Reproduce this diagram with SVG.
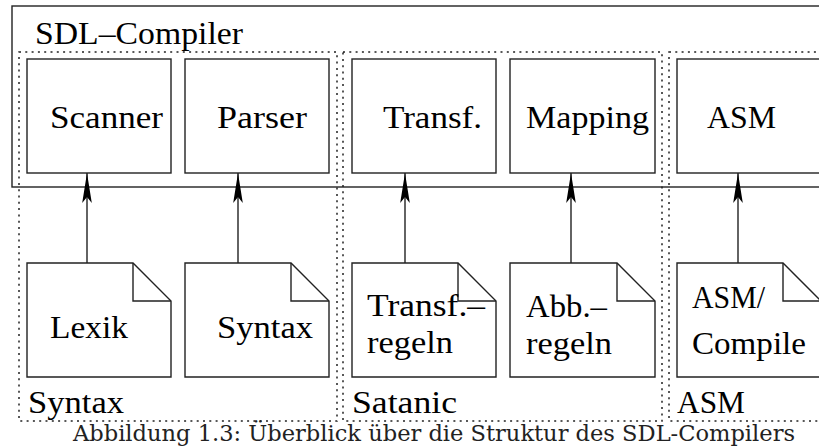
<svg xmlns="http://www.w3.org/2000/svg" width="819" height="447" viewBox="0 0 819 447">
  <style>
    .box { fill: #fff; stroke: #222; stroke-width: 1.4; }
    .frame { fill: none; stroke: #222; stroke-width: 1.4; }
    .grp { fill: none; stroke: #222; stroke-width: 1.5; stroke-dasharray: 2 4.3; }
    .doc { fill: #fff; stroke: #222; stroke-width: 1.4; stroke-linejoin: miter; }
    .fold { fill: none; stroke: #222; stroke-width: 1.4; }
    .edge { stroke: #222; stroke-width: 1.4; fill: none; marker-end: url(#head); }
    text { font-family: "Liberation Serif", "DejaVu Serif", serif; fill: #000; }
    .lbl { font-size: 32px; }
    .cap { font-family: "DejaVu Serif", "Liberation Serif", serif; font-size: 22px; fill: #222; }
  </style>
  <defs>
    <marker id="head" markerUnits="userSpaceOnUse" markerWidth="34" markerHeight="14" viewBox="-31 -7 34 14" refX="0" refY="0" orient="auto">
      <path d="M0,0 L-30,-4.8 L-24,0 L-30,4.8 Z" fill="#000"/>
    </marker>
  </defs>

  <!-- compiler frame -->
  <g id="sdl-compiler">
    <rect class="frame" x="12" y="6" width="820" height="181"/>
    <text class="lbl" x="35" y="44" textLength="208" lengthAdjust="spacingAndGlyphs">SDL–Compiler</text>
  </g>

  <!-- dotted groupings -->
  <g id="group-syntax">
    <rect class="grp" x="19" y="52" width="318" height="369"/>
    <text class="lbl" x="28" y="413" textLength="96" lengthAdjust="spacingAndGlyphs">Syntax</text>
  </g>
  <g id="group-satanic">
    <rect class="grp" x="343" y="52" width="319" height="369"/>
    <text class="lbl" x="352" y="413" textLength="105" lengthAdjust="spacingAndGlyphs">Satanic</text>
  </g>
  <g id="group-asm">
    <rect class="grp" x="669" y="52" width="170" height="369"/>
    <text class="lbl" x="677" y="413" textLength="68" lengthAdjust="spacingAndGlyphs">ASM</text>
  </g>

  <!-- compiler stages -->
  <g id="scanner">
    <rect class="box" x="27" y="59" width="144" height="114"/>
    <text class="lbl" x="50" y="128" textLength="113" lengthAdjust="spacingAndGlyphs">Scanner</text>
  </g>
  <g id="parser">
    <rect class="box" x="185" y="59" width="144" height="114"/>
    <text class="lbl" x="217" y="128" textLength="90" lengthAdjust="spacingAndGlyphs">Parser</text>
  </g>
  <g id="transf">
    <rect class="box" x="352" y="59" width="144" height="114"/>
    <text class="lbl" x="383" y="128" textLength="99" lengthAdjust="spacingAndGlyphs">Transf.</text>
  </g>
  <g id="mapping">
    <rect class="box" x="510" y="59" width="145" height="114"/>
    <text class="lbl" x="526" y="128" textLength="123" lengthAdjust="spacingAndGlyphs">Mapping</text>
  </g>
  <g id="asm">
    <rect class="box" x="677" y="59" width="144" height="114"/>
    <text class="lbl" x="707" y="128" textLength="69" lengthAdjust="spacingAndGlyphs">ASM</text>
  </g>

  <!-- input documents -->
  <g id="doc-lexik">
    <path class="doc" d="M27,263 H133 L171,301 V377 H27 Z"/>
    <path class="fold" d="M133,263 V301 H171"/>
    <text class="lbl" x="50" y="338" textLength="78" lengthAdjust="spacingAndGlyphs">Lexik</text>
  </g>
  <g id="doc-syntax">
    <path class="doc" d="M185,263 H291 L329,301 V377 H185 Z"/>
    <path class="fold" d="M291,263 V301 H329"/>
    <text class="lbl" x="217" y="338" textLength="96" lengthAdjust="spacingAndGlyphs">Syntax</text>
  </g>
  <g id="doc-transf">
    <path class="doc" d="M352,263 H458 L496,301 V377 H352 Z"/>
    <path class="fold" d="M458,263 V301 H496"/>
    <text class="lbl" x="367" y="316" textLength="118" lengthAdjust="spacingAndGlyphs">Transf.–</text>
    <text class="lbl" x="367" y="353" textLength="86" lengthAdjust="spacingAndGlyphs">regeln</text>
  </g>
  <g id="doc-abb">
    <path class="doc" d="M510,263 H617 L655,301 V377 H510 Z"/>
    <path class="fold" d="M617,263 V301 H655"/>
    <text class="lbl" x="526" y="317" textLength="81" lengthAdjust="spacingAndGlyphs">Abb.–</text>
    <text class="lbl" x="526" y="354" textLength="86" lengthAdjust="spacingAndGlyphs">regeln</text>
  </g>
  <g id="doc-asm">
    <path class="doc" d="M677,263 H783 L821,301 V377 H677 Z"/>
    <path class="fold" d="M783,263 V301 H821"/>
    <text class="lbl" x="692" y="308" textLength="73" lengthAdjust="spacingAndGlyphs">ASM/</text>
    <text class="lbl" x="692" y="354" textLength="114" lengthAdjust="spacingAndGlyphs">Compile</text>
  </g>

  <!-- connectors -->
  <g id="connectors">
    <line class="edge" x1="87" y1="263" x2="87" y2="173"/>
    <line class="edge" x1="238" y1="263" x2="238" y2="173"/>
    <line class="edge" x1="405" y1="263" x2="405" y2="173"/>
    <line class="edge" x1="571" y1="263" x2="571" y2="173"/>
    <line class="edge" x1="738" y1="263" x2="738" y2="173"/>
  </g>

  <text class="cap" x="73" y="441" textLength="722" lengthAdjust="spacingAndGlyphs">Abbildung 1.3: Überblick über die Struktur des SDL-Compilers</text>
</svg>
